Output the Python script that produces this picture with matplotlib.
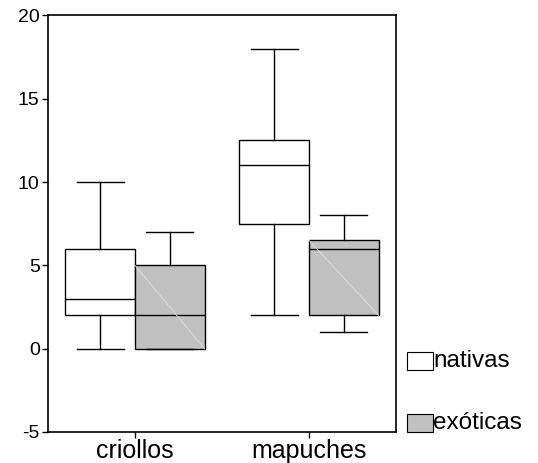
import matplotlib.pyplot as plt
from matplotlib.patches import Rectangle

plt.rcParams['font.family'] = ['Liberation Sans', 'DejaVu Sans']
plt.rcParams['axes.unicode_minus'] = False

groups = ['criollos', 'mapuches']
series = ['nativas', 'exóticas']
colors = ['white', '#c0c0c0']

# per series: [criollos, mapuches]
whislo = {'nativas': [0, 2], 'exóticas': [0, 1]}
q1 = {'nativas': [2, 7.5], 'exóticas': [0, 2]}
med = {'nativas': [3, 11], 'exóticas': [2, 6]}
q3 = {'nativas': [6, 12.5], 'exóticas': [5, 6.5]}
whishi = {'nativas': [10, 18], 'exóticas': [7, 8]}

fig = plt.figure(figsize=(5.38, 4.63), dpi=100)
ax = fig.add_axes([48 / 538, 31 / 463, 348 / 538, 416.5 / 463])

offs = [-0.2, 0.2]
w = 0.4
for s, off, c in zip(series, offs, colors):
    stats = []
    for i in range(len(groups)):
        stats.append(dict(whislo=whislo[s][i], q1=q1[s][i], med=med[s][i],
                          q3=q3[s][i], whishi=whishi[s][i], fliers=[]))
    pos = [i + 1 + off for i in range(len(groups))]
    ax.bxp(stats, positions=pos, widths=w, capwidths=0.27, patch_artist=True,
           showfliers=False,
           boxprops=dict(facecolor=c, edgecolor='black', linewidth=1.0),
           medianprops=dict(color='black', linewidth=1.0),
           whiskerprops=dict(color='black', linewidth=1.0),
           capprops=dict(color='black', linewidth=1.0),
           manage_ticks=False)
    if c != 'white':
        # faint diagonal artifact inside the grey boxes
        for p, lo, hi in zip(pos, q1[s], q3[s]):
            ax.plot([p - w / 2, p + w / 2], [hi, lo], color='#dedede', lw=0.6, zorder=3)

ax.set_xlim(0.5, 2.5)
ax.set_ylim(-5, 20)
ax.set_yticks([-5, 0, 5, 10, 15, 20])
ax.set_xticks([1, 2])
ax.set_xticklabels(groups, fontsize=18)
ax.tick_params(axis='y', direction='out', length=4, width=1, pad=2, labelsize=14)
ax.tick_params(axis='x', direction='out', length=4, width=1, pad=1)
for sp in ax.spines.values():
    sp.set_linewidth(1.2)

# legend outside the axes, lower right
for s, c, yc in zip(series, colors, [361, 423]):
    x0, y0 = 407 / 538, (463 - yc - 9) / 463
    fig.add_artist(Rectangle((x0, y0), 26 / 538, 18 / 463, transform=fig.transFigure,
                             facecolor=c, edgecolor='black', linewidth=0.8))
    fig.text(433 / 538, (463 - yc) / 463, s, va='center', ha='left', fontsize=17.5)

fig.savefig('out.png', dpi=100)
